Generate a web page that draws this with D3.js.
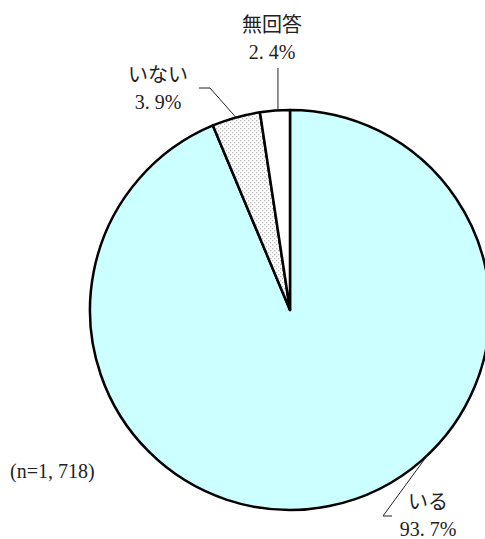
<!DOCTYPE html>
<html>
<head>
<meta charset="utf-8">
<script src="https://cdn.jsdelivr.net/npm/d3@7/dist/d3.min.js"></script>
<style>
  body { margin: 0; background: #fff; }
  text { font-family: "Liberation Serif", "Noto Sans CJK JP", serif; fill: #222; }
</style>
</head>
<body>
<svg id="chart"></svg>
<script>
// data
const categories = ['いる', 'いない', '無回答'];
const values = [93.7, 3.9, 2.4];
const value_labels = ['93. 7%', '3. 9%', '2. 4%'];
const sample_note = '(n=1, 718)';

const width = 485;
const height = 539;
const cx = 290;
const cy = 310;
const radius = 200;
const font_size = 20;

const svg = d3.select('#chart')
  .attr('width', width)
  .attr('height', height);

// dotted fill for "いない"
const defs = svg.append('defs');
const pat = defs.append('pattern')
  .attr('id', 'dots')
  .attr('patternUnits', 'userSpaceOnUse')
  .attr('width', 4)
  .attr('height', 4);
pat.append('rect').attr('width', 4).attr('height', 4).attr('fill', '#fff');
pat.append('rect').attr('x', 0).attr('y', 0).attr('width', 1.3).attr('height', 1.3).attr('fill', '#bbb');
pat.append('rect').attr('x', 2).attr('y', 2).attr('width', 1.3).attr('height', 1.3).attr('fill', '#bbb');

const fills = ['#ccffff', 'url(#dots)', '#ffffff'];

const pie = d3.pie().sort(null).value((d) => d);
const arcs = pie(values);
const arc = d3.arc().innerRadius(0).outerRadius(radius);

const g = svg.append('g').attr('transform', `translate(${cx},${cy})`);

g.selectAll('path')
    .data(arcs)
  .enter().append('path')
    .attr('d', arc)
    .attr('fill', (d, i) => fills[i])
    .attr('stroke', '#000')
    .attr('stroke-width', 2.5)
    .attr('stroke-linejoin', 'round');

// point on the rim at a fraction between start/end angle
function rim(d, t, r) {
  const a = d.startAngle + (d.endAngle - d.startAngle) * t;
  return [cx + r * Math.sin(a), cy - r * Math.cos(a)];
}

// leader lines (elbows placed by hand)
const line = d3.line();
const leaders = [
  { i: 0, t: 0.405, pts: (p) => [p, [383, 516], [392, 516]] },
  { i: 1, t: 0.5, pts: (p) => [p, [210, 88], [199, 88]] },
  { i: 2, t: 0.6, pts: (p) => [[p[0], 68], p] },
];
leaders.forEach((l) => {
  const p = rim(arcs[l.i], l.t, radius);
  svg.append('path')
    .attr('d', line(l.pts(p)))
    .attr('fill', 'none')
    .attr('stroke', '#222')
    .attr('stroke-width', 1);
});

const label_pos = [
  { x: 428, y: 509 },
  { x: 158, y: 82 },
  { x: 272, y: 32 },
];
label_pos.forEach((p, i) => {
  const t = svg.append('text')
    .attr('x', p.x)
    .attr('y', p.y)
    .attr('text-anchor', 'middle')
    .style('font-size', `${font_size}px`);
  t.append('tspan').attr('x', p.x).text(categories[i]);
  t.append('tspan').attr('x', p.x).attr('dy', 27).text(value_labels[i]);
});

svg.append('text')
  .attr('x', 10)
  .attr('y', 478)
  .style('font-size', `${font_size}px`)
  .text(sample_note);
</script>
</body>
</html>
